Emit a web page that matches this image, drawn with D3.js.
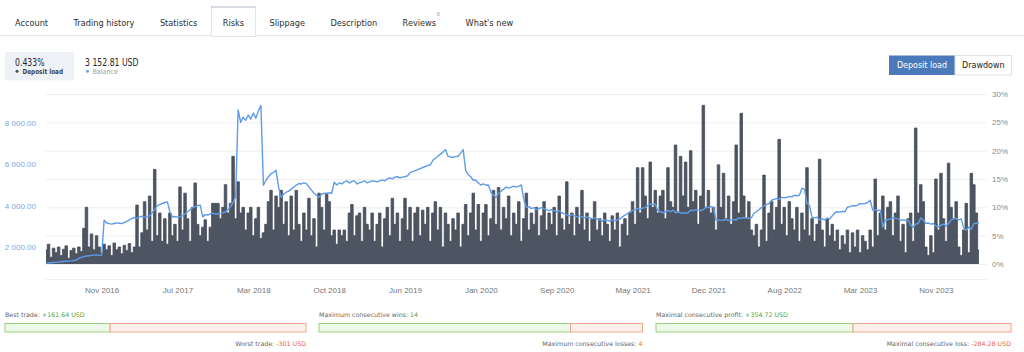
<!DOCTYPE html>
<html><head><meta charset="utf-8">
<script src="https://cdn.jsdelivr.net/npm/d3@7"></script>
<style>
html,body{margin:0;padding:0;background:#fff;}
svg{display:block;}
</style></head><body>
<svg id="c" width="1024" height="352"></svg>
<script>
// ---------- DATA ----------
const tabs = ["Account","Trading history","Statistics","Risks","Slippage","Description","Reviews","What's new"];
const activeTab = "Risks";
const reviewsCount = "8";
const modeButtons = ["Deposit load","Drawdown"];
const xTickLabels = ["Nov 2016","Jul 2017","Mar 2018","Oct 2018","Jun 2019","Jan 2020","Sep 2020","May 2021","Dec 2021","Aug 2022","Mar 2023","Nov 2023"];
const xTickIndex = [22,52,82,112,142,172,202,232,262,292,322,352];
const balanceTicks = [2000,4000,6000,8000];
const loadTicks = [0,5,10,15,20,25,30];
const currentLoad = 0.433;
const currentBalance = 3152.81;

// deposit load, % (one value per sample)
const depositLoad = [
2.5,3.5,1.2,2.8,2.0,3.0,1.5,2.6,3.2,1.0,
2.4,2.8,1.8,3.0,2.2,6.3,10.0,3.0,5.3,2.5,
5.0,3.0,2.0,3.5,2.5,3.2,1.5,3.7,2.5,3.0,
1.8,3.3,2.4,3.6,2.0,3.0,10.4,3.0,5.5,11.0,
6.0,12.0,4.0,16.7,5.0,9.0,4.0,8.0,3.5,9.0,
5.0,7.0,4.0,13.6,6.0,12.5,8.0,4.0,10.0,14.3,
7.0,5.0,6.5,7.8,4.0,6.5,10.7,10.7,10.7,8.0,
10.0,14.0,9.0,10.7,19.0,8.0,14.5,9.0,10.0,6.0,
9.0,10.0,5.0,8.0,10.0,4.5,5.5,7.0,11.0,13.0,
6.0,12.0,10.0,13.0,7.0,11.0,5.0,12.0,6.0,13.0,
7.0,4.0,9.0,6.0,11.6,5.0,8.0,3.0,12.5,10.0,
6.0,12.5,11.0,5.0,6.0,3.5,6.0,5.0,6.0,4.0,
9.0,10.5,5.0,8.5,9.0,4.0,10.0,7.0,6.0,9.0,
4.0,7.0,9.0,3.0,8.0,10.0,5.0,11.6,7.0,9.0,
4.0,8.0,11.6,6.0,10.0,4.0,9.0,10.0,5.0,9.5,
7.0,10.0,4.0,9.0,11.0,6.0,10.0,3.0,9.0,7.0,
4.0,8.0,6.0,9.0,3.0,7.0,10.5,5.0,9.0,12.5,
6.0,10.5,4.0,9.0,10.5,5.0,8.0,13.0,7.0,13.5,
6.0,10.0,8.0,12.0,5.0,9.0,7.0,11.0,4.0,8.0,
12.5,6.0,9.0,7.0,10.0,5.0,8.5,11.0,6.0,9.0,
7.0,10.0,5.0,12.0,8.0,6.0,14.5,7.0,9.0,5.0,
10.0,7.0,13.0,6.0,9.0,4.0,8.0,11.0,6.0,8.0,
5.0,9.0,7.0,4.0,8.5,6.0,9.0,3.0,7.0,8.0,
5.0,9.0,11.0,7.0,17.0,9.0,17.0,12.0,8.0,18.0,
10.0,13.0,9.0,12.0,13.0,8.0,17.0,11.0,10.0,21.0,
9.0,19.0,12.0,18.0,10.0,20.0,11.0,13.0,7.0,12.0,
28.0,10.0,13.0,9.0,10.0,6.0,17.5,10.0,16.0,8.0,
12.0,7.0,11.0,21.0,9.0,26.6,12.0,8.0,11.0,6.0,
5.0,7.0,3.0,6.0,15.7,4.0,9.0,11.0,6.0,10.0,
22.0,7.0,10.0,5.0,11.0,8.0,6.0,10.0,4.0,9.0,
6.0,17.0,5.0,8.0,4.0,7.0,18.5,6.0,3.0,8.0,
5.0,7.0,4.0,6.0,2.5,5.0,3.5,6.0,2.0,5.5,
3.0,6.0,2.0,5.0,4.0,2.5,6.0,3.0,15.0,5.0,
9.0,12.0,6.0,10.0,11.0,5.0,9.0,12.0,4.0,7.0,
2.0,8.0,9.0,4.0,24.0,9.0,14.0,11.0,3.0,1.5,
5.0,2.0,15.0,6.0,16.0,8.0,4.0,17.8,10.0,8.0,
11.0,3.0,1.5,6.0,10.7,2.0,16.0,14.0,9.0,2.5
];

// balance, USD (same samples)
const balance = [
1200,1210,1220,1230,1240,1260,1270,1280,1290,1300,
1310,1330,1350,1440,1480,1520,1550,1560,1580,1590,
1600,1580,1590,3290,3150,3120,3100,3130,3160,3140,
3120,3180,3230,3300,3375,3420,3380,3450,3480,3440,
3460,3500,3650,3800,4000,4050,4100,4150,4180,3700,
3450,3470,3440,3460,3500,3600,3700,3800,3900,3950,
4000,4020,3450,3560,3540,3600,3630,3580,3600,3620,
3650,3700,3800,3950,4150,4420,8650,8050,8300,8150,
8400,8200,8500,8250,8600,8860,4990,5230,5400,5550,
5610,5715,4900,4400,4550,4650,4700,4800,4900,5000,
5070,5050,5100,5070,4900,4750,4600,4500,4400,4550,
4600,4580,4620,4600,5130,5000,5100,5050,5150,5200,
5100,5180,5200,5050,5100,5150,5200,5100,5150,5200,
5180,5150,5200,5250,5200,5300,5350,5300,5380,5400,
5350,5380,5400,5450,5600,5650,5700,5750,5800,5850,
5900,5950,5970,6200,6300,6400,6500,6600,6720,6400,
6360,6350,6380,6400,6550,6720,5710,5500,5400,5230,
5230,5100,5000,5050,4990,5000,4650,4500,4400,4600,
4700,4800,4900,4850,4900,4950,4900,4950,5000,4300,
3900,3950,3850,3900,3800,3850,3900,3850,3800,3750,
3800,3750,3700,3750,3650,3600,3550,3500,3550,3500,
3450,3500,3450,3400,3450,3400,3350,3400,3350,3300,
3250,3300,3280,3250,3300,3270,3300,3350,3450,3540,
3600,3700,3750,3800,3850,3820,3880,3900,4000,4070,
4050,4070,3750,3700,3650,3700,3750,3700,3780,3650,
3700,3630,3650,3620,3650,3780,3750,3800,3780,3760,
3800,3920,3900,3950,3920,3290,3300,3280,3300,3320,
3280,3300,3320,3300,3400,3380,3420,3400,3380,3400,
3630,3700,3800,3900,4000,4050,4100,4260,4300,4350,
4300,4400,4380,4400,4450,4420,4500,4480,4500,4840,
4800,4100,4000,3430,3400,3430,3300,3350,3300,3390,
3350,3500,3650,3700,3680,3720,3700,3920,3950,4000,
3980,4020,4100,4080,4100,4150,4260,3780,3800,3760,
3780,2950,3300,3320,3350,3400,3380,3350,3290,3300,
3280,3290,3050,2950,3100,3130,3400,3300,3130,3150,
3100,3130,3000,2950,3050,3100,3000,3130,3290,3350,
3380,3300,3350,2900,2800,2950,2850,3130,3140,3152.81
];

// trade statistics
const statLabels = ["Best trade","Worst trade","Maximum consecutive wins","Maximum consecutive losses","Maximal consecutive profit","Maximal consecutive loss"];
const statValues = [161.64, -301, 14, 4, 354.72, -284.28];
const statUnits = ["USD","USD","","","USD","USD"];

// ---------- DRAW ----------
const svg = d3.select("#c");
const UI = "'DejaVu Sans', Verdana, sans-serif";
const AX = "'Liberation Sans', Arial, sans-serif";

// tabs
const tabG = svg.append("g");
tabG.append("line").attr("x1",0).attr("x2",1024).attr("y1",35.5).attr("y2",35.5).attr("stroke","#e6e6e6");
let tx = 15;
tabs.forEach(t => {
  const txt = tabG.append("text").attr("x",tx).attr("y",25.5).attr("font-family",UI).attr("font-size",8.2)
    .attr("fill","#2e2e2e").text(t);
  const w = txt.node().getComputedTextLength();
  if (t === activeTab) {
    tabG.insert("rect","text").attr("x",tx-11.5).attr("y",7).attr("width",w+23).attr("height",29.5)
      .attr("fill","#fff").attr("stroke","#e3e3e3");
    tabG.append("line").attr("x1",tx-11.5).attr("x2",tx+w+11.5).attr("y1",7).attr("y2",7)
      .attr("stroke","#7f9fd0").attr("stroke-dasharray","1,1");
  }
  if (t === "Reviews") {
    tabG.append("text").attr("x",tx+w+0.5).attr("y",16).attr("font-family",UI).attr("font-size",5.5)
      .attr("fill","#8fa8cc").text(reviewsCount);
    tx += 4;
  }
  tx += w + 25.5;
});

// header values
svg.append("rect").attr("x",5).attr("y",52).attr("width",69).attr("height",28.5).attr("fill","#eef1f6");
svg.append("text").attr("x",15).attr("y",65.5).attr("font-family",UI).attr("font-size",10.5).attr("fill","#262626")
  .attr("textLength",29.5).attr("lengthAdjust","spacingAndGlyphs")
  .text(d3.format(".3f")(currentLoad)+"%");
svg.append("circle").attr("cx",17).attr("cy",71.3).attr("r",1.5).attr("fill","#474f5b");
svg.append("text").attr("x",22.5).attr("y",73.8).attr("font-family",UI).attr("font-size",7).attr("font-weight","bold").attr("fill","#444")
  .attr("textLength",40.5).attr("lengthAdjust","spacingAndGlyphs")
  .text("Deposit load");
const loc = d3.formatLocale({decimal:".", thousands:" ", grouping:[3], currency:["",""]});
svg.append("text").attr("x",85).attr("y",65.5).attr("font-family",UI).attr("font-size",10.5).attr("fill","#262626")
  .attr("textLength",53.5).attr("lengthAdjust","spacingAndGlyphs")
  .text(loc.format(",.2f")(currentBalance)+" USD");
svg.append("circle").attr("cx",87.5).attr("cy",71.3).attr("r",1.5).attr("fill","#6aa3e8");
svg.append("text").attr("x",92.5).attr("y",73.8).attr("font-family",UI).attr("font-size",7).attr("fill","#a0a0a0")
  .attr("textLength",25.5).attr("lengthAdjust","spacingAndGlyphs")
  .text("Balance");

// mode buttons
svg.append("rect").attr("x",889).attr("y",55.5).attr("width",66).attr("height",19.5).attr("fill","#4b7abb");
svg.append("rect").attr("x",955).attr("y",55.5).attr("width",56.5).attr("height",19.5).attr("fill","#fff").attr("stroke","#e2e2e2");
svg.append("text").attr("x",922).attr("y",68.3).attr("text-anchor","middle").attr("font-family",UI).attr("font-size",8).attr("fill","#fff").text(modeButtons[0]);
svg.append("text").attr("x",983.3).attr("y",68.3).attr("text-anchor","middle").attr("font-family",UI).attr("font-size",8).attr("fill","#222").text(modeButtons[1]);

// scales
const L = 46, R = 987, T = 94, B = 264;
const x = d3.scaleLinear().domain([0, 372.2]).range([L, R]);
const yR = d3.scaleLinear().domain([0, 30]).range([B, T]);
const yL = d3.scaleLinear().domain([1159, 9424]).range([B, T]);

// right axis + grid
const gR = svg.append("g").attr("transform",`translate(${R},0)`)
  .call(d3.axisRight(yR).tickValues(loadTicks).tickSize(-(R-L)).tickPadding(5).tickFormat(d=>d+"%"));
gR.select(".domain").remove();
gR.selectAll("line").attr("stroke","#efefef");
gR.selectAll("text").attr("font-family",AX).attr("font-size",8).attr("fill","#8a8a8a");

// left axis
const gL = svg.append("g").attr("transform","translate(36,0)")
  .call(d3.axisLeft(yL).tickValues(balanceTicks).tickSize(0).tickPadding(0).tickFormat(loc.format(",.2f")));
gL.select(".domain").remove();
gL.selectAll("text").attr("font-family",AX).attr("font-size",8).attr("fill","#7ba8e4");

// x axis
svg.append("line").attr("x1",L).attr("x2",R).attr("y1",279.5).attr("y2",279.5).attr("stroke","#efefef");
const gX = svg.append("g").attr("transform","translate(0,279.5)")
  .call(d3.axisBottom(x).tickValues(xTickIndex).tickSize(0).tickPadding(7.5).tickFormat((d,i)=>xTickLabels[i]));
gX.select(".domain").remove();
gX.selectAll("text").attr("font-family",AX).attr("font-size",8).attr("fill","#777");

// deposit load
const area = d3.area().curve(d3.curveStep).x((d,i)=>x(i)).y0(yR(0)).y1(d=>yR(d));
const line = d3.line().curve(d3.curveStep).x((d,i)=>x(i)).y(d=>yR(d));
svg.append("path").datum(depositLoad).attr("d",area).attr("fill","#4d5562");
svg.append("path").datum(depositLoad).attr("d",line).attr("fill","none").attr("stroke","#454d59").attr("stroke-width",0.8);

// balance
const bline = d3.line().x((d,i)=>x(i)).y(d=>yL(d));
svg.append("path").datum(balance).attr("d",bline).attr("fill","none").attr("stroke","#5f9ce8").attr("stroke-width",1.4).attr("stroke-linejoin","round");

// bottom stat bars
const panels = [[0,1,5,306],[2,3,319,642.5],[4,5,656,1011]];
const fmtVal = (v,u) => {
  let s = (Number.isInteger(v) ? String(Math.abs(v)) : Math.abs(v).toFixed(2));
  if (u) s = (v>=0?"+":"-") + s + " " + u;
  return s;
};
panels.forEach(([a,b,x0,x1]) => {
  const pos = Math.abs(statValues[a]), neg = Math.abs(statValues[b]);
  const xs = d3.scaleLinear().domain([0,pos+neg]).range([x0,x1]);
  const t1 = svg.append("text").attr("x",x0).attr("y",317).attr("font-family",UI).attr("font-size",6.3).attr("fill","#666");
  t1.append("tspan").text(statLabels[a]+": ");
  t1.append("tspan").attr("fill","#5aa13c").text(fmtVal(statValues[a],statUnits[a]));
  svg.append("rect").attr("x",xs(0)).attr("y",323.5).attr("width",xs(pos)-xs(0)).attr("height",8.5)
    .attr("fill","#eef8e8").attr("stroke","#9ccf7e");
  svg.append("rect").attr("x",xs(pos)).attr("y",323.5).attr("width",xs(pos+neg)-xs(pos)).attr("height",8.5)
    .attr("fill","#fdefe9").attr("stroke","#f3a68c");
  const t2 = svg.append("text").attr("x",x1).attr("y",345.5).attr("text-anchor","end").attr("font-family",UI).attr("font-size",6.3).attr("fill","#666");
  t2.append("tspan").text(statLabels[b]+": ");
  t2.append("tspan").attr("fill","#f0643c").text(fmtVal(statValues[b],statUnits[b]));
});
</script>
</body></html>
